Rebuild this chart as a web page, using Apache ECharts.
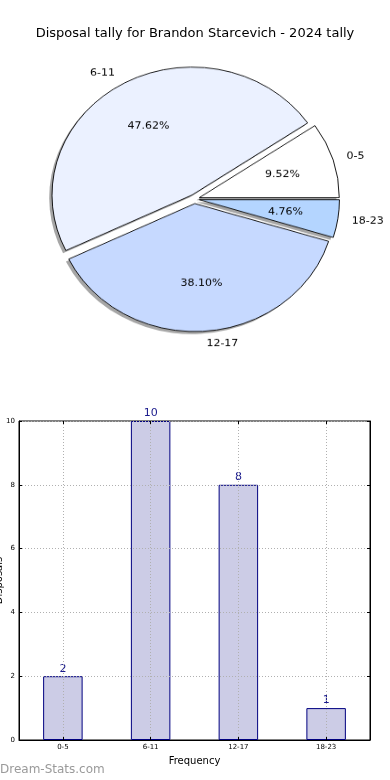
<!DOCTYPE html>
<html>
<head>
<meta charset="utf-8">
<script src="https://cdn.jsdelivr.net/npm/echarts@6/dist/echarts.min.js"></script>
<style>
html,body{margin:0;padding:0;background:#fff;}
#wrap{position:relative;width:390px;height:780px;overflow:hidden;}
#chart{position:absolute;left:0;top:0;width:390px;height:780px;}
#pie{position:absolute;left:0;top:0;width:390px;height:400px;transform:scaleY(0.914);transform-origin:0 199px;}
</style>
</head>
<body>
<div id="wrap">
<div id="chart"></div>
<div id="pie"></div>
</div>
<script>
const titleText = 'Disposal tally for Brandon Starcevich - 2024 tally';
const categories = ['0-5', '6-11', '12-17', '18-23'];
const counts = [2, 10, 8, 1];
const pieColors = ['#ffffff', '#ebf1ff', '#c6d9ff', '#b4d5ff'];
const yTicks = [0, 2, 4, 6, 8, 10];

const total = counts.reduce((a, b) => a + b, 0);
const R = 140;
const CX = 194.5, CY = 199;
const OFF = 5;

const pieData = categories.map((c, i) => ({
  name: c, value: counts[i], selected: true,
  itemStyle: { color: pieColors[i] }
}));
const plainData = categories.map((c, i) => ({
  name: c, value: counts[i], selected: true
}));

const gridLine = { show: true, lineStyle: { color: '#b0b0b0', type: [1, 2], width: 1 } };
const fontBase = { fontFamily: 'DejaVu Sans', color: '#000' };

const chart = echarts.init(document.getElementById('chart'), null, { renderer: 'canvas' });
chart.setOption({
  animation: false,
  title: {
    text: titleText, left: 'center', top: 22,
    textStyle: Object.assign({ fontSize: 13, fontWeight: 'normal' }, fontBase)
  },
  graphic: [{
    type: 'text', left: 0, top: 764,
    style: { text: 'Dream-Stats.com', fontFamily: 'DejaVu Sans', fontSize: 12, fill: '#9a9a9a' }
  }],
  grid: {
    left: 19, right: 20, top: 421, bottom: 40, containLabel: false, outerBoundsMode: 'none',
    show: true, borderColor: '#000', borderWidth: 1, backgroundColor: 'transparent'
  },
  xAxis: [
    {
      type: 'category', data: categories, z: 5,
      name: 'Frequency', nameLocation: 'middle', nameGap: 16, nameMoveOverlap: false,
      nameTextStyle: Object.assign({ fontSize: 10 }, fontBase),
      axisLine: { onZero: false, lineStyle: { color: '#000' } },
      axisTick: { show: true, inside: true, alignWithLabel: true, length: 3, lineStyle: { color: '#000' } },
      axisLabel: Object.assign({ fontSize: 7, margin: 4 }, fontBase),
      splitLine: { show: false }
    },
    {
      type: 'value', min: -0.5, max: 3.5, splitNumber: 4, position: 'top', z: 5,
      axisLine: { show: false, onZero: false },
      axisTick: { show: true, inside: true, length: 3, lineStyle: { color: '#000' } },
      axisLabel: { show: false },
      splitLine: gridLine
    }
  ],
  yAxis: [
    {
      type: 'value', min: yTicks[0], max: yTicks[yTicks.length - 1], interval: 2, z: 5,
      name: 'Disposals', nameLocation: 'middle', nameGap: 15, nameRotate: 90, nameMoveOverlap: false,
      nameTextStyle: Object.assign({ fontSize: 10 }, fontBase),
      axisLine: { show: true, onZero: false, lineStyle: { color: '#000' } },
      axisTick: { show: true, inside: true, length: 3, lineStyle: { color: '#000' } },
      axisLabel: Object.assign({ fontSize: 7, margin: 4 }, fontBase),
      splitLine: gridLine
    },
    {
      type: 'value', min: yTicks[0], max: yTicks[yTicks.length - 1], interval: 2, position: 'right', z: 5,
      axisLine: { show: true, onZero: false, lineStyle: { color: '#000' } },
      axisTick: { show: true, inside: true, length: 3, lineStyle: { color: '#000' } },
      axisLabel: { show: false },
      splitLine: { show: false }
    }
  ],
  series: [
    {
      type: 'bar', data: counts, barWidth: '45%', z: 2,
      itemStyle: { color: '#ccccE6', borderColor: '#000080', borderWidth: 1 },
      label: {
        show: true, position: 'top', distance: 2,
        fontFamily: 'DejaVu Sans', fontSize: 11, color: '#1a1a8c'
      }
    }
  ]
});

const pie = echarts.init(document.getElementById('pie'), null, { renderer: 'canvas' });
const pieCommon = {
  type: 'pie', clockwise: false, startAngle: 0,
  selectedMode: 'multiple', selectedOffset: OFF,
  avoidLabelOverlap: false, emphasis: { disabled: true }
};
pie.setOption({
  animation: false,
  series: [
    Object.assign({}, pieCommon, {
      center: [CX - 2.8, CY + 2.8], radius: [0, R], z: 1, silent: true,
      itemStyle: { color: 'rgba(77,77,77,0.5)', borderWidth: 0 },
      label: { show: false }, labelLine: { show: false },
      data: plainData
    }),
    Object.assign({}, pieCommon, {
      center: [CX, CY], radius: [0, R], z: 2,
      itemStyle: { borderColor: '#000', borderWidth: 0.9 },
      label: {
        show: true, position: 'outside', formatter: '{b}',
        fontFamily: 'DejaVu Sans', fontSize: 11, color: '#000', distanceToLabelLine: 0
      },
      labelLine: { show: false, length: 0.1 * R, length2: 0 },
      data: pieData
    }),
    Object.assign({}, pieCommon, {
      center: [CX, CY], radius: [0.4 * R, 0.8 * R], z: 3, silent: true,
      itemStyle: { color: 'rgba(0,0,0,0)', borderWidth: 0 },
      label: {
        show: true, position: 'inside',
        formatter: p => (p.value / total * 100).toFixed(2) + '%',
        fontFamily: 'DejaVu Sans', fontSize: 11, color: '#000'
      },
      labelLine: { show: false },
      data: plainData
    })
  ]
});
</script>
</body>
</html>
